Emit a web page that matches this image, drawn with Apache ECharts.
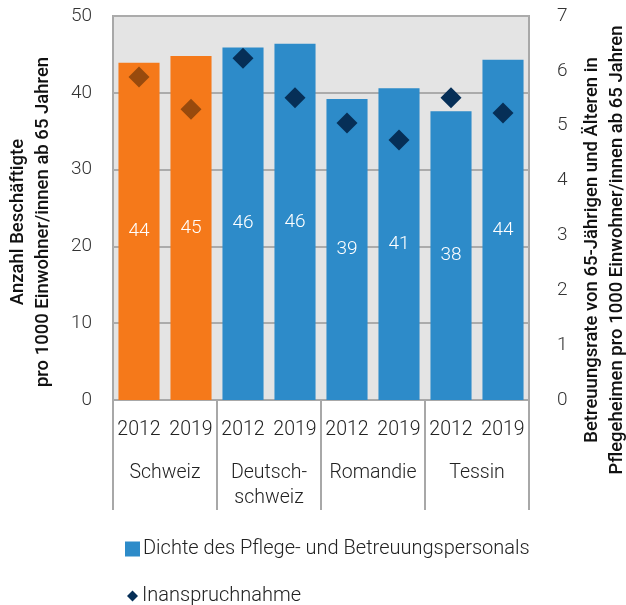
<!DOCTYPE html>
<html>
<head>
<meta charset="utf-8">
<script src="https://cdn.jsdelivr.net/npm/echarts@6/dist/echarts.min.js"></script>
<style>
  html, body { margin: 0; padding: 0; background: #fff; }
  #chart { width: 626px; height: 605px; }
</style>
</head>
<body>
<div id="chart"></div>
<script>
// Pflegepersonal-Dichte (bars, left axis) and Inanspruchnahme (diamonds, right axis)

var years = ["2012", "2019", "2012", "2019", "2012", "2019", "2012", "2019"];
var regions = ["Schweiz", "Deutsch-\nschweiz", "Romandie", "Tessin"];
var dichte = [43.9, 44.8, 45.9, 46.4, 39.2, 40.6, 37.6, 44.3];
var inanspruchnahme = [5.89, 5.30, 6.23, 5.51, 5.05, 4.74, 5.51, 5.23];
var leftTicks = { min: 0, max: 50, interval: 10 };
var rightTicks = { min: 0, max: 7, interval: 1 };
var leftTitle = "Anzahl Beschäftigte\npro 1000 Einwohner/innen ab 65 Jahren";
var rightTitle = "Betreuungsrate von 65-Jährigen und Älteren in\nPflegeheimen pro 1000 Einwohner/innen ab 65 Jahren";

var FONT = "Roboto";
var ORANGE = "#F5791A";
var BLUE = "#2D8BC9";
var NAVY = "#062F57";
var BROWN = "#984A0D";
var GRIDLINE = "#ABABAB";

// the first two categories (Schweiz) are drawn in orange
var barData = dichte.map(function (v, i) {
  return i < 2 ? { value: v, itemStyle: { color: ORANGE } } : v;
});
var dotData = inanspruchnahme.map(function (v, i) {
  return i < 2 ? { value: v, itemStyle: { color: BROWN } } : v;
});

// rotated axis titles, placed as graphic text so they sit off-centre like the original
function axisTitle(text, x, y) {
  return {
    type: "text",
    x: x,
    y: y,
    rotation: Math.PI / 2,
    style: {
      text: text,
      align: "center",
      verticalAlign: "middle",
      fontFamily: FONT,
      fontWeight: 500,
      fontSize: 18.5,
      lineHeight: 25,
      fill: "#111"
    }
  };
}

var chart = echarts.init(document.getElementById("chart"));

chart.setOption({
  animation: false,
  textStyle: { fontFamily: FONT },
  grid: {
    left: 113,
    right: 97,
    top: 16,
    bottom: 205,
    outerBoundsMode: "none",
    containLabel: false,
    show: true,
    backgroundColor: "#E4E4E4",
    borderColor: "#A8A8A8",
    borderWidth: 2
  },
  graphic: [
    axisTitle(leftTitle, 31, 222),
    axisTitle(rightTitle, 605, 250)
  ],
  legend: [
    {
      data: ["Dichte des Pflege- und Betreuungspersonals"],
      left: 125,
      top: 539,
      padding: 0,
      itemWidth: 15,
      itemHeight: 15,
      icon: "rect",
      textStyle: { fontFamily: FONT, fontWeight: 300, fontSize: 20, color: "#222", padding: [0, 0, 0, -2] }
    },
    {
      data: ["Inanspruchnahme"],
      left: 127,
      top: 586,
      padding: 0,
      itemWidth: 11,
      itemHeight: 11,
      icon: "diamond",
      textStyle: { fontFamily: FONT, fontWeight: 300, fontSize: 20, color: "#222", padding: [0, 0, 0, -1] }
    }
  ],
  xAxis: [
    {
      type: "category",
      data: years,
      axisLine: { show: true, lineStyle: { color: "#A8A8A8", width: 2 } },
      axisTick: { show: false },
      axisLabel: {
        interval: 0,
        margin: 20,
        fontSize: 19.5,
        fontWeight: 300,
        color: "#222"
      }
    },
    {
      type: "category",
      data: regions,
      position: "bottom",
      axisLine: { show: false },
      axisTick: {
        show: true,
        interval: 0,
        length: 110,
        lineStyle: { color: "#A8A8A8", width: 2 }
      },
      axisLabel: {
        interval: 0,
        margin: 61,
        fontSize: 19.5,
        fontWeight: 300,
        lineHeight: 25,
        color: "#222"
      }
    }
  ],
  yAxis: [
    {
      type: "value",
      position: "left",
      min: leftTicks.min,
      max: leftTicks.max,
      interval: leftTicks.interval,
      axisLine: { show: false },
      axisTick: { show: false },
      axisLabel: { margin: 21, fontSize: 19, fontWeight: 300, color: "#333" },
      splitLine: { lineStyle: { color: GRIDLINE, width: 2 } }
    },
    {
      type: "value",
      position: "right",
      min: rightTicks.min,
      max: rightTicks.max,
      interval: rightTicks.interval,
      axisLine: { show: false },
      axisTick: { show: false },
      axisLabel: { margin: 28, fontSize: 19, fontWeight: 300, color: "#333" },
      splitLine: { show: false }
    }
  ],
  series: [
    {
      name: "Dichte des Pflege- und Betreuungspersonals",
      type: "bar",
      xAxisIndex: 0,
      yAxisIndex: 0,
      data: barData,
      barCategoryGap: "21%",
      itemStyle: { color: BLUE },
      label: {
        show: true,
        position: "inside",
        color: "#fff",
        fontFamily: FONT,
        fontWeight: 300,
        fontSize: 19,
        formatter: function (p) {
          return Math.round(p.value);
        }
      }
    },
    {
      name: "Inanspruchnahme",
      type: "scatter",
      xAxisIndex: 0,
      yAxisIndex: 1,
      symbol: "diamond",
      symbolSize: 21,
      data: dotData,
      itemStyle: { color: NAVY, opacity: 1 },
      z: 3
    }
  ]
});
</script>
</body>
</html>
